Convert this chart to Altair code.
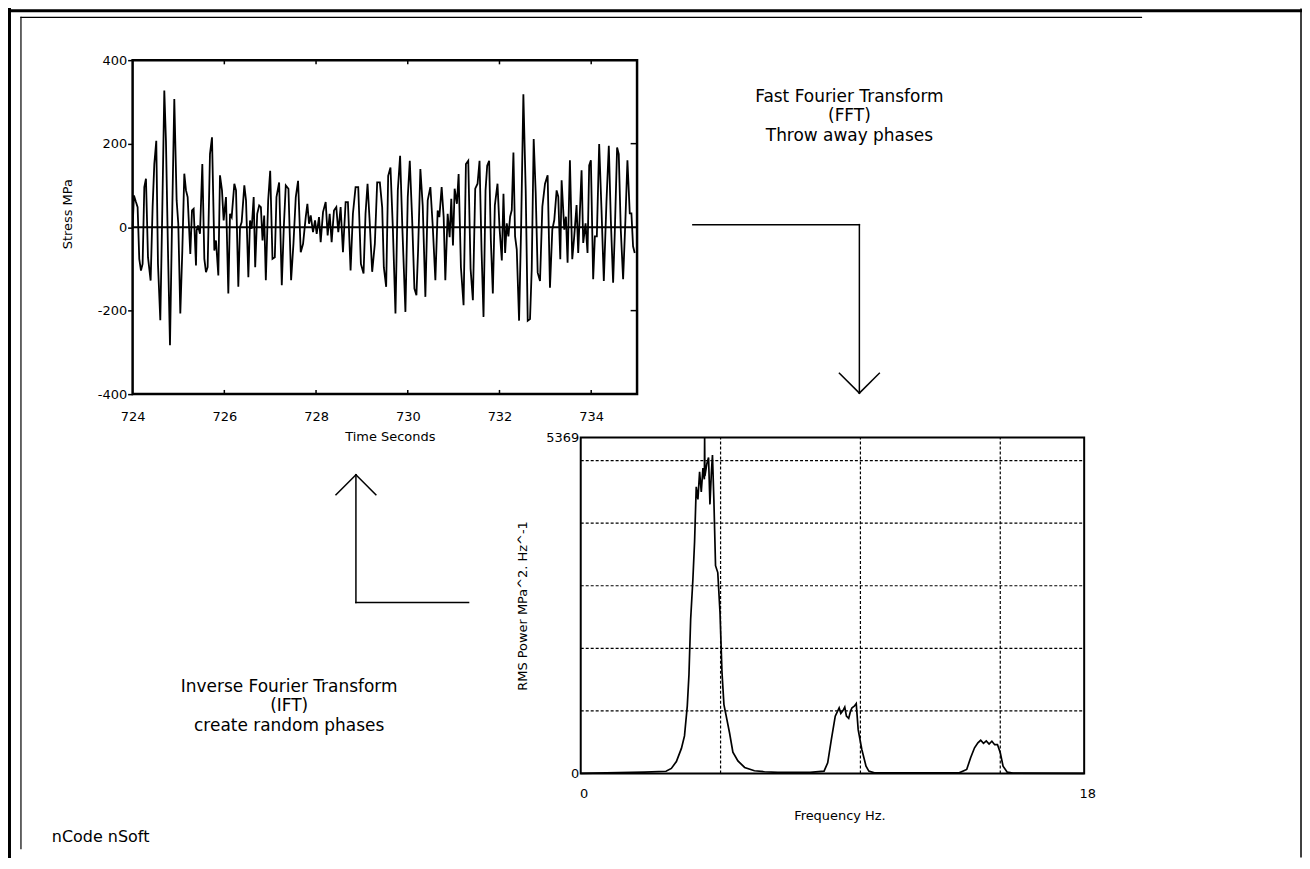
import altair as alt
import pandas as pd

FONT = "DejaVu Sans"
W, H = 1298, 850

# ---------------- time history ----------------
time_s = [
    724.000, 724.029, 724.073, 724.109, 724.145, 724.182, 724.218, 724.255, 724.291, 724.335,
    724.393, 724.436, 724.473, 724.516, 724.553, 724.604, 724.647, 724.691, 724.727, 724.771,
    724.815, 724.858, 724.909, 724.960, 724.996, 725.040, 725.084, 725.127, 725.164, 725.200,
    725.258, 725.295, 725.331, 725.382, 725.396, 725.425, 725.469, 725.520, 725.564, 725.600,
    725.636, 725.687, 725.731, 725.782, 725.818, 725.869, 725.905, 725.949, 725.985, 726.036,
    726.087, 726.124, 726.160, 726.218, 726.255, 726.305, 726.342, 726.378, 726.436, 726.473,
    726.524, 726.560, 726.596, 726.640,
    726.673, 726.717, 726.760, 726.797, 726.833, 726.869, 726.905, 726.956, 727.000, 727.050,
    727.101, 727.137, 727.195, 727.253, 727.297, 727.340, 727.398, 727.456, 727.507, 727.558,
    727.608, 727.666, 727.717, 727.775, 727.811, 727.847, 727.884, 727.934, 727.978, 728.014,
    728.065, 728.101, 728.152, 728.210, 728.253, 728.297, 728.340, 728.391, 728.442, 728.485,
    728.536, 728.587, 728.645, 728.695, 728.753, 728.804, 728.862, 728.920, 728.978, 729.036,
    729.079, 729.123, 729.166, 729.224, 729.282, 729.333,
    729.391, 729.442, 729.478, 729.529, 729.573, 729.623, 729.674, 729.732, 729.783, 729.833,
    729.884, 729.949, 730.000, 730.044, 730.094, 730.145, 730.189, 730.225, 730.275, 730.326,
    730.384, 730.435, 730.493, 730.544, 730.602, 730.652, 730.689, 730.739, 730.783, 730.819,
    730.870, 730.913, 730.949, 730.986, 731.022, 731.072, 731.109, 731.159, 731.217, 731.268,
    731.319, 731.370, 731.420, 731.471, 731.522, 731.565, 731.609, 731.652, 731.696, 731.732,
    731.775, 731.812, 731.855, 731.899, 731.957, 732.000, 732.051, 732.087,
    732.123, 732.159, 732.195, 732.232, 732.268, 732.304, 732.340, 732.377, 732.427, 732.471,
    732.521, 732.572, 732.616, 732.666, 732.703, 732.746, 732.790, 732.833, 732.884, 732.935,
    732.993, 733.050, 733.101, 733.152, 733.195, 733.246, 733.282, 733.326, 733.355, 733.413,
    733.449, 733.485, 733.536, 733.587, 733.630, 733.681, 733.717, 733.790, 733.826, 733.877,
    733.920, 733.956, 733.993, 734.043, 734.080, 734.123, 734.174, 734.225, 734.275, 734.333,
    734.384, 734.428, 734.478, 734.514, 734.565, 734.601, 734.645, 734.696, 734.746, 734.790,
    734.841, 734.877, 734.913, 734.949,
]
stress_mpa = [
    0, 76, 60, 48, -76, -104, -88, 96, 116, -72,
    -128, 48, 151, 207, -88, -223, 40, 327, 207, -56,
    -283, 0, 307, 64, 8, -207, -56, 128, 88, 72,
    -64, 40, 44, -92, -8, 4, -16, 151, -76, -108,
    -96, 175, 215, -56, -32, -116, 124, 88, 16, 72,
    -159, 32, 24, 104, 88, -143, 0, 12, 100, 64,
    -120, 16, -4, 72,
    -96, 32, 52, 48, -32, 28, -127, 64, 135, -76,
    -72, 72, 107, -139, 0, 100, 92, -127, -40, 72,
    111, -60, -40, 24, 56, 8, 28, -12, 16, -16,
    24, -36, 36, 60, -20, 32, -36, 40, 48, -12,
    48, -60, 60, 60, -104, 32, 96, 96, -88, -111,
    32, 104, 20, -107, -40, 107,
    107, 48, -96, -143, 123, 143, 0, -207, 88, 171,
    -8, -203, 72, 159, 24, -147, -163, -56, 139, 52,
    -167, 64, 96, 4, -127, 40, 24, 96, 24, -127,
    32, -24, 68, -44, 92, 56, 127, -96, -187, 151,
    159, -100, -175, 92, 104, 159, -56, -215, 88, 147,
    159, -32, -159, 52, 104, 0, -80, 80,
    -62, 9, -22, 25, 41, 179, -22, -54, -224, -6,
    318, 88, -224, -220, -101, 211, 81, -109, -129, 49,
    104, 124, -145, -6, 17, 88, 73, -77, 112, -6,
    25, -85, 160, -77, -22, 53, -62, 136, -38, 9,
    -62, 148, 160, -125, -22, -22, 199, 41, -129, 61,
    195, 17, -133, -14, 191, 175, -6, -125, 17, 160,
    33, 33, -46, -62,
]
assert len(time_s) == len(stress_mpa), (len(time_s), len(stress_mpa))

time_ticks = [724, 726, 728, 730, 732, 734]
inner_time_ticks = [726, 728, 730, 732, 734]
stress_ticks = [-400, -200, 0, 200, 400]
inner_stress_ticks = [-200, 200]

# ---------------- spectrum ----------------
freq_hz = [
    0.0, 2.28, 3.05, 3.24, 3.42, 3.60, 3.71, 3.81, 3.87, 3.93,
    4.01, 4.07, 4.13, 4.19, 4.25, 4.31, 4.37, 4.42, 4.43, 4.44,
    4.51, 4.57, 4.62, 4.67, 4.71, 4.76, 4.82, 4.90, 4.98, 5.05,
    5.12, 5.20, 5.32, 5.44, 5.62, 5.86, 6.21, 6.57, 7.05, 8.20,
    8.70, 8.83, 8.96, 9.10, 9.24, 9.30, 9.37, 9.44, 9.50, 9.58,
    9.65, 9.70, 9.78, 9.85, 9.92, 10.05, 10.20, 10.30, 10.50, 13.53,
    13.80, 13.94, 14.08, 14.20, 14.30, 14.40, 14.50, 14.60, 14.70, 14.80,
    14.90, 15.00, 15.10, 15.25, 15.45, 18.0,
]
rms_power = [
    0, 22, 35, 80, 190, 400, 600, 1080, 1580, 2460,
    3100, 3700, 4580, 4380, 4820, 4500, 4880, 4700, 5369, 4750,
    4950, 5050, 4300, 4800, 5090, 4380, 3320, 3210, 2570, 1620,
    1100, 920, 650, 340, 200, 96, 43, 27, 16, 16,
    37, 170, 540, 915, 1047, 960, 1000, 1060, 915, 880,
    1000, 1050, 1074, 1116, 700, 383, 117, 37, 10, 10,
    64, 250, 410, 490, 530, 480, 520, 470, 515, 460,
    462, 330, 117, 21, 5, 0,
]
assert len(freq_hz) == len(rms_power)

freq_labels = [0, 18]
power_labels = [0, 5369]
freq_grid = [5, 10, 15]
power_grid = [1000, 2000, 3000, 4000, 5000]

# ---------------- scales (placing each panel on one canvas) ----------------
tx = alt.Scale(domain=[724, 735], range=[125, 631], nice=False, zero=False)
ty = alt.Scale(domain=[-400, 400], range=[386, 51], nice=False, zero=False)
fx = alt.Scale(domain=[0, 18], range=[574.5, 1079.5], nice=False, zero=False)
fy = alt.Scale(domain=[0, 5369], range=[766.5, 429.5], nice=False, zero=False)

lab = "toString(datum.value)"
common_axis = dict(labelFont=FONT, titleFont=FONT, labelFontSize=13, titleFontSize=13,
                   titleFontWeight="normal", labelColor="#000000", titleColor="#000000",
                   domain=False, grid=False, labelFlush=False, labelOverlap=False,
                   labelExpr=lab, titleBaseline="middle", tickColor="#000000")

one = pd.DataFrame({"k": [0]})


def seg(x1, y1, x2, y2, w=1.5):
    return alt.Chart(one).mark_rule(color="black", strokeWidth=w, strokeCap="square").encode(
        x=alt.value(x1), y=alt.value(y1), x2=alt.value(x2), y2=alt.value(y2))


def txt(s, x, y, size=17, align="center"):
    return alt.Chart(one).mark_text(font=FONT, fontSize=size, align=align, baseline="middle",
                                    color="black").encode(
        x=alt.value(x), y=alt.value(y), text=alt.value(s))


layers = []
# page frame
layers += [
    seg(0, 1.5, W - 1, 1.5, 3),
    seg(1.5, 0, 1.5, H, 3),
    seg(W - 1, 0, W - 1, H, 1.5),
    seg(13, 8, 1137, 8, 1.2),
    seg(13, 8, 13, H - 8, 1.2),
]
# arrows
layers += [
    seg(687, 216, 854, 216), seg(854, 216, 854, 385),
    seg(834, 365, 854, 385), seg(874, 365, 854, 385),
    seg(462, 595, 349, 595), seg(349, 595, 349, 467),
    seg(329, 487, 349, 467), seg(369, 487, 349, 467),
]
# annotations
layers += [
    txt("Fast Fourier Transform", 844, 88), txt("(FFT)", 844, 107), txt("Throw away phases", 844, 127),
    txt("Inverse Fourier Transform", 282, 680), txt("(IFT)", 282, 699), txt("create random phases", 282, 719),
    txt("nCode nSoft", 44, 830, 16, "left"),
]

# ---- spectrum panel ----
pg = pd.DataFrame({"p": power_grid, "f0": 0, "f1": 18})
fg = pd.DataFrame({"f": freq_grid, "p0": 0, "p1": 5369})
layers.append(alt.Chart(pg).mark_rule(color="black", strokeWidth=1.2, strokeDash=[3, 2]).encode(
    x=alt.X("f0:Q", scale=fx, axis=None), x2="f1:Q", y=alt.Y("p:Q", scale=fy, axis=None)))
layers.append(alt.Chart(fg).mark_rule(color="black", strokeWidth=1.2, strokeDash=[3, 2]).encode(
    x=alt.X("f:Q", scale=fx, axis=None), y=alt.Y("p0:Q", scale=fy, axis=None), y2="p1:Q"))

spec = pd.DataFrame({"f": freq_hz, "p": rms_power})
layers.append(alt.Chart(spec).mark_line(color="black", strokeWidth=1.7).encode(
    x=alt.X("f:Q", scale=fx, axis=alt.Axis(
        orient="bottom", values=freq_labels, offset=766.5 - H, tickSize=0, labelPadding=14,
        labelOffset=3, title="Frequency Hz.", titleX=834, titleY=42.5, **common_axis)),
    y=alt.Y("p:Q", scale=fy, axis=alt.Axis(
        orient="left", values=power_labels, offset=-574.5, tickSize=0, labelPadding=2,
        title="RMS Power MPa^2. Hz^-1", titleX=-58.5, titleY=598, **common_axis)),
))
sbox = pd.DataFrame({"f0": [0], "f1": [18], "p0": [0], "p1": [5369]})
layers.append(alt.Chart(sbox).mark_rect(fillOpacity=0, stroke="black", strokeWidth=2).encode(
    x=alt.X("f0:Q", scale=fx, axis=None), x2="f1:Q",
    y=alt.Y("p0:Q", scale=fy, axis=None), y2="p1:Q"))

# ---- time history panel ----
ts = pd.DataFrame({"t": time_s, "s": stress_mpa})
layers.append(alt.Chart(ts).mark_line(color="black", strokeWidth=1.8).encode(
    x=alt.X("t:Q", scale=tx, axis=alt.Axis(
        orient="bottom", values=time_ticks, offset=386 - H, tickSize=0, labelPadding=16,
        title="Time Seconds", titleX=383, titleY=43, **common_axis)),
    y=alt.Y("s:Q", scale=ty, axis=alt.Axis(
        orient="left", values=stress_ticks, offset=-125, tickSize=5, tickWidth=1.5, labelPadding=1,
        title="Stress MPa", titleX=-65, titleY=205, **common_axis)),
))
zero = pd.DataFrame({"t0": [724], "t1": [735], "s": [0]})
layers.append(alt.Chart(zero).mark_rule(color="black", strokeWidth=2).encode(
    x=alt.X("t0:Q", scale=tx, axis=None), x2="t1:Q", y=alt.Y("s:Q", scale=ty, axis=None)))
tbox = pd.DataFrame({"t0": [724], "t1": [735], "s0": [-400], "s1": [400]})
layers.append(alt.Chart(tbox).mark_rect(fillOpacity=0, stroke="black", strokeWidth=2.5).encode(
    x=alt.X("t0:Q", scale=tx, axis=None), x2="t1:Q",
    y=alt.Y("s0:Q", scale=ty, axis=None), y2="s1:Q"))
tt = pd.DataFrame({"t": inner_time_ticks, "lo": -400, "lo2": -390, "hi": 400, "hi2": 390})
layers.append(alt.Chart(tt).mark_rule(color="black", strokeWidth=1.5).encode(
    x=alt.X("t:Q", scale=tx, axis=None), y=alt.Y("lo:Q", scale=ty, axis=None), y2="lo2:Q"))
layers.append(alt.Chart(tt).mark_rule(color="black", strokeWidth=1.5).encode(
    x=alt.X("t:Q", scale=tx, axis=None), y=alt.Y("hi:Q", scale=ty, axis=None), y2="hi2:Q"))
rt = pd.DataFrame({"s": inner_stress_ticks, "e": 735, "e2": 734.86})
layers.append(alt.Chart(rt).mark_rule(color="black", strokeWidth=1.5).encode(
    x=alt.X("e:Q", scale=tx, axis=None), x2="e2:Q", y=alt.Y("s:Q", scale=ty, axis=None)))

chart = alt.layer(*layers).resolve_scale(x="independent", y="independent").properties(
    width=W, height=H, padding=0, background="white",
    autosize=alt.AutoSizeParams(type="none"),
).configure_view(stroke=None)

chart.save("out.html", embed_options={"renderer": "svg", "actions": False})
